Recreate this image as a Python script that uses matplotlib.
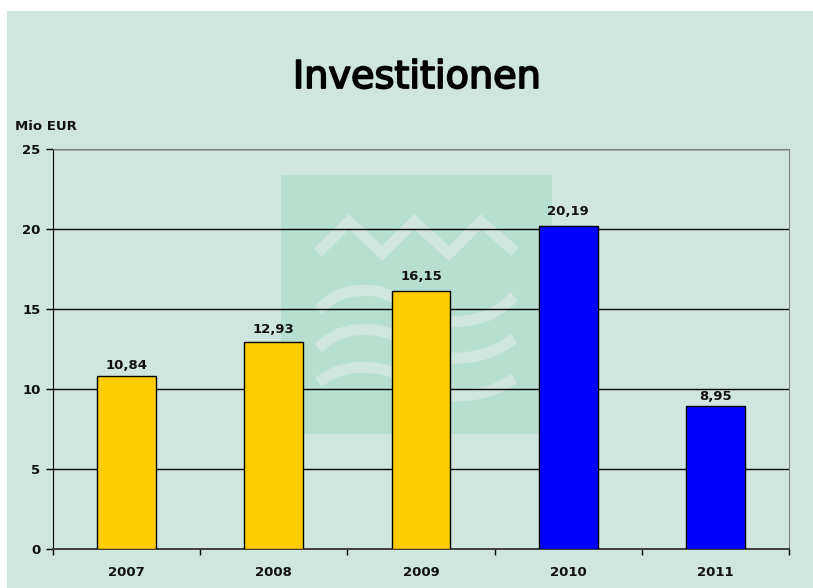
"""Investitionen - Saeulendiagramm mit Logo im Hintergrund."""
import matplotlib
matplotlib.use("Agg")
import matplotlib.pyplot as plt
import matplotlib.patheffects as pe
from matplotlib.lines import Line2D
from matplotlib.patches import Rectangle

plt.rcParams["font.family"] = ["DejaVu Sans"]
plt.rcParams["font.weight"] = "bold"

years = ["2007", "2008", "2009", "2010", "2011"]
values = [10.84, 12.93, 16.15, 20.19, 8.95]
labels = ["10,84", "12,93", "16,15", "20,19", "8,95"]
yticks = [0, 5, 10, 15, 20, 25]

PANEL = "#CFE6DE"
LOGO = "#B7DFD0"
YELLOW = "#FFCC00"
BLUE = "#0000FF"
TEXT = "#111111"
FS = 9.5
W, H = 813, 588


def px(x, y):
    """Pixel (von oben links) nach Figurkoordinaten."""
    return x / W, 1 - y / H


def logo_line(fig, pts, joinstyle="round"):
    """Logo-Linie, pts in Zoom-Pixeln des Logos."""
    xs = [(270 + p[0] / 3) / W for p in pts]
    ys = [1 - (170 + p[1] / 3) / H for p in pts]
    fig.add_artist(Line2D(xs, ys, color=PANEL, lw=8, zorder=-5,
                          solid_capstyle="butt", solid_joinstyle=joinstyle))


fig = plt.figure(figsize=(W / 100, H / 100), dpi=100, facecolor="white")

# Hintergrund
x0, y0 = px(7, 588)
x1, y1 = px(813, 11)
fig.add_artist(Rectangle((x0, y0), x1 - x0, y1 - y0, transform=fig.transFigure,
                         facecolor=PANEL, edgecolor="none", zorder=-10))
x0, y0 = px(281, 434)
x1, y1 = px(552, 175)
fig.add_artist(Rectangle((x0, y0), x1 - x0, y1 - y0, transform=fig.transFigure,
                         facecolor=LOGO, edgecolor="none", zorder=-8))

# Logo
logo_line(fig, [(143, 248), (237, 155), (337, 250), (433, 155), (537, 250),
                (632, 155), (735, 245)], joinstyle="miter")
logo_line(fig, [(145, 420), (172, 396), (205, 375), (245, 364), (285, 360),
                (325, 364), (365, 378), (450, 435), (510, 452), (560, 455),
                (610, 449), (655, 436), (695, 413), (733, 380)])
logo_line(fig, [(145, 535), (172, 512), (205, 492), (245, 481), (285, 478),
                (325, 481), (365, 492), (450, 545), (510, 562), (560, 565),
                (610, 560), (655, 549), (695, 530), (733, 505)])
logo_line(fig, [(145, 637), (172, 618), (205, 603), (245, 594), (285, 592),
                (325, 595), (365, 605), (450, 660), (510, 675), (560, 678),
                (610, 674), (655, 665), (695, 648), (733, 625)])

ax = fig.add_axes([53 / W, 1 - 549 / H, (789 - 53) / W, 400 / H])
ax.patch.set_visible(False)
ax.set_xlim(-0.5, 4.5)
ax.set_ylim(0, 25)

ax.set_axisbelow(True)
ax.grid(axis="y", color="black", lw=1)

colors = [YELLOW, YELLOW, YELLOW, BLUE, BLUE]
xpos = list(range(len(years)))
ax.bar(xpos, values, width=0.4, color=colors, edgecolor="black", lw=1, zorder=3)

# Abstand der Beschriftung ueber der Saeule, in Punkt
label_pad = [2.5, 4.5, 5.5, 5.5, 2]
for x, v, lab, pad in zip(xpos, values, labels, label_pad):
    ax.annotate(lab, (x, v), xytext=(0, pad), textcoords="offset points",
                ha="center", va="bottom", fontsize=FS, fontweight="bold",
                color=TEXT)

ax.set_yticks(yticks)
ax.set_yticklabels([str(t) for t in yticks], fontsize=FS, fontweight="bold",
                   color=TEXT)
ax.set_xticks(xpos)
ax.set_xticklabels(years, fontsize=FS, fontweight="bold", color=TEXT)
ax.tick_params(axis="x", which="major", length=0, pad=12)
ax.set_xticks([x - 0.5 for x in xpos] + [4.5], minor=True)
ax.tick_params(axis="x", which="minor", length=4, width=1, color="black",
               direction="out")
ax.tick_params(axis="y", length=5, width=1, pad=4)

for side in ["top", "right"]:
    ax.spines[side].set_color("#808080")
ax.spines["left"].set_color("black")
ax.spines["bottom"].set_color("#404040")
ax.spines["bottom"].set_linewidth(1.4)

title = fig.text(*px(417, 78), "Investitionen", ha="center", va="center",
                 fontsize=27.5, fontweight="normal", color="black")
title.set_path_effects([pe.withStroke(linewidth=1.3, foreground="black")])
fig.text(*px(15, 127), "Mio EUR", ha="left", va="center",
         fontsize=FS, fontweight="bold", color=TEXT)

fig.savefig("out.png", dpi=100, facecolor="white")
